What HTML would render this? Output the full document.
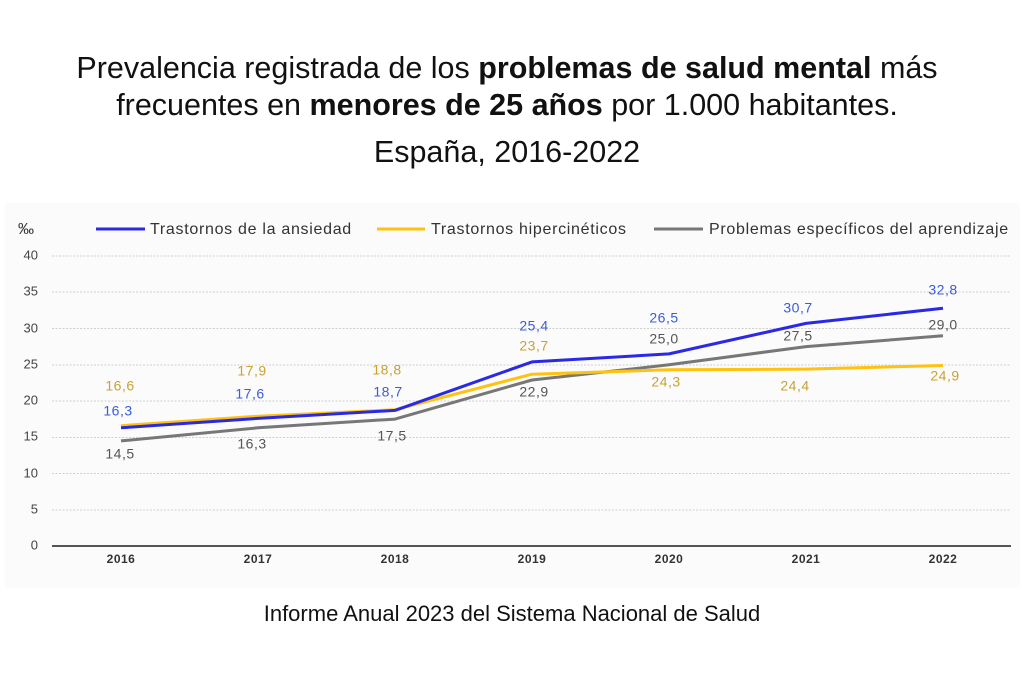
<!DOCTYPE html>
<html><head><meta charset="utf-8"><style>
body{margin:0;width:1024px;height:684px;background:#fff;font-family:"Liberation Sans",sans-serif;overflow:hidden}
.t{position:absolute;left:0;width:1014px;text-align:center;font-size:30.5px;color:#111;line-height:37px}
</style></head><body>
<div class="t" style="top:50px">Prevalencia registrada de los <b>problemas de salud mental</b> más</div>
<div class="t" style="top:87px">frecuentes en <b>menores de 25 años</b> por 1.000 habitantes.</div>
<div class="t" style="top:134px">España, 2016-2022</div>
<svg style="position:absolute;left:0;top:0" width="1024" height="684" font-family="Liberation Sans, sans-serif">
<rect x="5" y="203" width="1015" height="385" fill="#fbfbfb"/>
<g stroke="#cfcfcf" stroke-dasharray="2,1.5" stroke-width="1">
<line x1="52" x2="1011" y1="256" y2="256"/><line x1="52" x2="1011" y1="292" y2="292"/>
<line x1="52" x2="1011" y1="328.5" y2="328.5"/><line x1="52" x2="1011" y1="365" y2="365"/>
<line x1="52" x2="1011" y1="401" y2="401"/><line x1="52" x2="1011" y1="437.5" y2="437.5"/>
<line x1="52" x2="1011" y1="473.5" y2="473.5"/><line x1="52" x2="1011" y1="510" y2="510"/>
</g>
<line x1="52" x2="1011" y1="546" y2="546" stroke="#555" stroke-width="2"/>
<g font-size="13" fill="#444" text-anchor="end" dominant-baseline="middle">
<text x="38" y="256">40</text><text x="38" y="292">35</text><text x="38" y="329">30</text><text x="38" y="365">25</text><text x="38" y="401">20</text><text x="38" y="437">15</text><text x="38" y="474">10</text><text x="38" y="510">5</text><text x="38" y="546">0</text>
</g>
<text x="18" y="234" font-size="16" fill="#333">‰</text>
<g font-size="12" fill="#333" text-anchor="middle" font-weight="bold" letter-spacing="0.5">
<text x="121" y="563">2016</text><text x="258" y="563">2017</text><text x="395" y="563">2018</text><text x="532" y="563">2019</text><text x="669" y="563">2020</text><text x="806" y="563">2021</text><text x="943" y="563">2022</text>
</g>
<g font-size="16" fill="#333" letter-spacing="0.7">
<line x1="96" x2="145" y1="229" y2="229" stroke="#2a2ae6" stroke-width="3"/><text x="150" y="234">Trastornos de la ansiedad</text>
<line x1="377" x2="425" y1="229" y2="229" stroke="#ffc20e" stroke-width="3"/><text x="431" y="234">Trastornos hipercinéticos</text>
<line x1="654" x2="703" y1="229" y2="229" stroke="#777" stroke-width="3"/><text x="709" y="234">Problemas específicos del aprendizaje</text>
</g>
<g fill="none" stroke-width="3" stroke-linejoin="round">
<polyline stroke="#777" points="121,440.9 258,427.8 395,419.1 532,380 669,364.8 806,346.6 943,335.8"/>
<polyline stroke="#ffc20e" points="121,425.7 258,416.2 395,409.7 532,374.2 669,369.8 806,369.1 943,365.5"/>
<polyline stroke="#2a2ae6" points="121,427.8 258,418.4 395,410.4 532,361.9 669,353.9 806,323.4 943,308.2"/>
</g>
<g font-size="14" text-anchor="middle" dominant-baseline="middle" letter-spacing="0.5">
<g fill="#3b5bdb"><text x="118" y="412">16,3</text><text x="250" y="395">17,6</text><text x="388" y="393">18,7</text><text x="534" y="327">25,4</text><text x="664" y="319">26,5</text><text x="798" y="309">30,7</text><text x="943" y="291">32,8</text></g>
<g fill="#c9a233"><text x="120" y="387">16,6</text><text x="252" y="372">17,9</text><text x="387" y="371">18,8</text><text x="534" y="347">23,7</text><text x="666" y="383">24,3</text><text x="795" y="387">24,4</text><text x="945" y="377">24,9</text></g>
<g fill="#555"><text x="120" y="455">14,5</text><text x="252" y="445">16,3</text><text x="392" y="437">17,5</text><text x="534" y="393">22,9</text><text x="664" y="340">25,0</text><text x="798" y="337">27,5</text><text x="943" y="326">29,0</text></g>
</g>
<text x="512" y="621" font-size="22" fill="#111" text-anchor="middle">Informe Anual 2023 del Sistema Nacional de Salud</text>
</svg>
</body></html>
